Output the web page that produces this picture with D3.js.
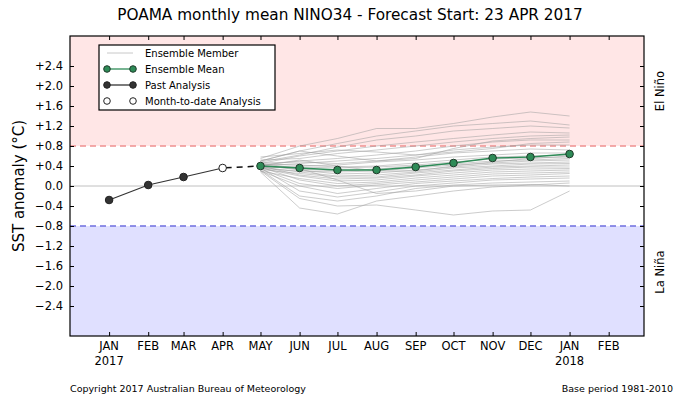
<!DOCTYPE html>
<html><head><meta charset="utf-8">
<script src="https://cdn.jsdelivr.net/npm/d3@7"></script>
<style>body{margin:0;background:#fff;} text{font-family:"DejaVu Sans",sans-serif;}</style>
</head><body><svg id="c" width="700" height="400"></svg>
<script>
const monthLabels = ["JAN","FEB","MAR","APR","MAY","JUN","JUL","AUG","SEP","OCT","NOV","DEC","JAN","FEB"];
const yearLabels = ["2017","","","","","","","","","","","","2018",""];
const yTicks = [-2.4,-2.0,-1.6,-1.2,-0.8,-0.4,0.0,0.4,0.8,1.2,1.6,2.0,2.4];
const pastMonths = ["2017-01","2017-02","2017-03"];
const pastValues = [-0.28, 0.02, 0.18];
const mtdMonths = ["2017-04"];
const mtdValues = [0.36];
const fcMonths = ["2017-05","2017-06","2017-07","2017-08","2017-09","2017-10","2017-11","2017-12","2018-01"];
const meanValues = [0.40,0.36,0.32,0.32,0.38,0.46,0.56,0.58,0.64];
const members = [
 [0.55,0.80,0.95,1.15,1.15,1.25,1.38,1.48,1.40],
 [0.50,0.70,0.85,1.00,1.10,1.20,1.25,1.30,1.22],
 [0.48,0.62,0.78,0.92,1.00,1.10,1.15,1.20,1.16],
 [0.45,0.60,0.70,0.80,0.88,0.95,1.02,1.08,1.06],
 [0.52,0.55,0.65,0.72,0.80,0.88,0.95,1.00,1.02],
 [0.42,0.50,0.55,0.62,0.70,0.80,0.88,0.92,0.92],
 [0.40,0.45,0.50,0.55,0.62,0.72,0.78,0.82,0.82],
 [0.46,0.48,0.45,0.50,0.58,0.66,0.70,0.74,0.72],
 [0.38,0.40,0.42,0.48,0.52,0.58,0.62,0.66,0.66],
 [0.44,0.42,0.38,0.40,0.46,0.52,0.58,0.60,0.62],
 [0.36,0.38,0.36,0.38,0.42,0.48,0.54,0.56,0.58],
 [0.40,0.34,0.30,0.34,0.40,0.44,0.50,0.52,0.55],
 [0.35,0.30,0.28,0.30,0.36,0.42,0.46,0.50,0.52],
 [0.42,0.32,0.24,0.26,0.32,0.38,0.44,0.46,0.48],
 [0.38,0.28,0.20,0.22,0.28,0.36,0.40,0.44,0.45],
 [0.33,0.25,0.18,0.18,0.26,0.32,0.38,0.40,0.42],
 [0.40,0.22,0.14,0.16,0.22,0.30,0.35,0.38,0.38],
 [0.36,0.20,0.10,0.12,0.20,0.26,0.32,0.34,0.35],
 [0.30,0.15,0.05,0.08,0.16,0.22,0.28,0.30,0.32],
 [0.38,0.12,0.00,0.05,0.12,0.18,0.24,0.26,0.28],
 [0.34,0.05,-0.05,0.02,0.08,0.14,0.20,0.22,0.25],
 [0.30,0.00,-0.15,-0.05,0.05,0.10,0.15,0.18,0.20],
 [0.36,-0.10,-0.22,-0.12,0.00,0.06,0.12,0.14,0.16],
 [0.32,-0.20,-0.30,-0.20,-0.05,0.02,0.06,0.08,0.10],
 [0.28,-0.44,-0.56,-0.30,-0.20,-0.10,-0.02,0.02,0.06],
 [0.30,-0.25,-0.40,-0.38,-0.48,-0.58,-0.50,-0.48,-0.10],
 [0.45,0.35,0.12,-0.15,-0.10,0.00,0.02,0.03,0.00],
 [0.50,0.70,0.60,0.50,0.55,0.75,0.90,0.95,0.98],
 [0.58,0.65,0.72,0.68,0.62,0.68,0.75,0.85,0.88],
 [0.40,0.52,0.40,0.30,0.30,0.40,0.48,0.55,0.60]
];
const tickMonths = ["2017-01","2017-02","2017-03","2017-04","2017-05","2017-06","2017-07","2017-08","2017-09","2017-10","2017-11","2017-12","2018-01","2018-02"];

const parse = d3.timeParse("%Y-%m");
const L=70, R=644, T=36, B=336;
const svg = d3.select("#c");
const x = d3.scaleTime().domain([new Date(2016,11,1), new Date(2018,2,1)]).range([L,R]);
const y = d3.scaleLinear().domain([-3,3]).range([B,T]);

// bands
svg.append("rect").attr("x",L).attr("y",y(3)).attr("width",R-L).attr("height",y(0.8)-y(3)).attr("fill","#ffe6e6");
svg.append("rect").attr("x",L).attr("y",y(-0.8)).attr("width",R-L).attr("height",y(-3)-y(-0.8)).attr("fill","#e0e0ff");
svg.append("line").attr("x1",L).attr("x2",R).attr("y1",y(0.8)).attr("y2",y(0.8)).attr("stroke","#f09090").attr("stroke-width",1.3).attr("stroke-dasharray","6,4");
svg.append("line").attr("x1",L).attr("x2",R).attr("y1",y(-0.8)).attr("y2",y(-0.8)).attr("stroke","#6f6fdf").attr("stroke-width",1.3).attr("stroke-dasharray","6,4");
svg.append("line").attr("x1",L).attr("x2",R).attr("y1",y(0)).attr("y2",y(0)).attr("stroke","#c0c0c0").attr("stroke-width",1);

const fcDates = fcMonths.map(parse);
const line = d3.line().x(d=>x(d[0])).y(d=>y(d[1]));
// members
svg.append("g").selectAll("path").data(members).join("path")
 .attr("d",m=>line(m.map((v,i)=>[fcDates[i],v])))
 .attr("fill","none").attr("stroke","#a0a0a0").attr("stroke-width",0.6).attr("stroke-opacity",0.9);

// past
const pastPts = pastMonths.map((m,i)=>[parse(m),pastValues[i]]);
const mtdPts = mtdMonths.map((m,i)=>[parse(m),mtdValues[i]]);
svg.append("path").attr("d",line(pastPts.concat(mtdPts))).attr("fill","none").attr("stroke","#333").attr("stroke-width",1.2);
svg.append("path").attr("d",line([mtdPts[0],[fcDates[0],meanValues[0]]])).attr("fill","none").attr("stroke","#111").attr("stroke-width",1.5).attr("stroke-dasharray","6,5").attr("stroke-dashoffset",-3);
svg.append("g").selectAll("circle").data(pastPts).join("circle")
 .attr("cx",d=>x(d[0])).attr("cy",d=>y(d[1])).attr("r",3.8).attr("fill","#333").attr("stroke","#222");
svg.append("g").selectAll("circle").data(mtdPts).join("circle")
 .attr("cx",d=>x(d[0])).attr("cy",d=>y(d[1])).attr("r",3.8).attr("fill","#fff").attr("stroke","#222");

// mean
const meanPts = fcDates.map((d,i)=>[d,meanValues[i]]);
svg.append("path").attr("d",line(meanPts)).attr("fill","none").attr("stroke","#2e8b57").attr("stroke-width",1.3);
svg.append("g").selectAll("circle").data(meanPts).join("circle")
 .attr("cx",d=>x(d[0])).attr("cy",d=>y(d[1])).attr("r",3.8).attr("fill","#2e8b57").attr("stroke","#1f3a2a").attr("stroke-width",1);

// frame
svg.append("rect").attr("x",L).attr("y",T).attr("width",R-L).attr("height",B-T).attr("fill","none").attr("stroke","#000").attr("stroke-width",1.2);

// axes
const td = tickMonths.map(parse);
const xb = svg.append("g").attr("transform",`translate(0,${B})`).call(d3.axisBottom(x).tickValues(td).tickSizeInner(-4).tickSizeOuter(0).tickFormat(""));
const xt = svg.append("g").attr("transform",`translate(0,${T})`).call(d3.axisTop(x).tickValues(td).tickSizeInner(-4).tickSizeOuter(0).tickFormat(""));
const fmt = v => v===0 ? "0.0" : (v>0?"+":"\u2212")+Math.abs(v).toFixed(1);
const yl = svg.append("g").attr("transform",`translate(${L},0)`).call(d3.axisLeft(y).tickValues(yTicks).tickSizeInner(-4).tickSizeOuter(0).tickPadding(7).tickFormat(fmt));
const yr = svg.append("g").attr("transform",`translate(${R},0)`).call(d3.axisRight(y).tickValues(yTicks).tickSizeInner(-4).tickSizeOuter(0).tickFormat(""));
[xb,xt,yl,yr].forEach(g=>{g.select(".domain").remove(); g.selectAll(".tick line").attr("stroke","#000");});
yl.selectAll("text").attr("font-size",11.5).attr("font-family","DejaVu Sans").attr("fill","#000");

// x labels
const xl = svg.append("g");
xl.selectAll("text.m").data(td).join("text").attr("class","m")
 .attr("x",d=>x(d)).attr("y",350).attr("text-anchor","middle").attr("font-size",11.5)
 .text((d,i)=>monthLabels[i]);
xl.selectAll("text.yr").data(td).join("text").attr("class","yr")
 .attr("x",d=>x(d)).attr("y",365).attr("text-anchor","middle").attr("font-size",11.5)
 .text((d,i)=>yearLabels[i]);

// titles
svg.append("text").attr("x",350).attr("y",20).attr("text-anchor","middle").attr("font-size",15.3).text("POAMA monthly mean NINO34 - Forecast Start: 23 APR 2017");
svg.append("text").attr("transform",`translate(24,${(T+B)/2}) rotate(-90)`).attr("text-anchor","middle").attr("font-size",15).text("SST anomaly (°C)");
svg.append("text").attr("transform",`translate(664,91) rotate(-90)`).attr("text-anchor","middle").attr("font-size",11.5).text("El Niño");
svg.append("text").attr("transform",`translate(664,272) rotate(-90)`).attr("text-anchor","middle").attr("font-size",11.5).text("La Niña");
svg.append("text").attr("x",70).attr("y",392).attr("font-size",9.5).text("Copyright 2017 Australian Bureau of Meteorology");
svg.append("text").attr("x",673).attr("y",392).attr("text-anchor","end").attr("font-size",9.5).text("Base period 1981-2010");

// legend
const lg = svg.append("g");
lg.append("rect").attr("x",99).attr("y",45).attr("width",176).attr("height",65).attr("fill","#fff").attr("stroke","#000").attr("stroke-width",1.2);
const items = [
 {label:"Ensemble Member", line:"#c8c8c8", lw:1, marker:null},
 {label:"Ensemble Mean", line:"#2e8b57", lw:1.3, marker:"#2e8b57", edge:"#1f3a2a"},
 {label:"Past Analysis", line:"#333", lw:1.3, marker:"#333", edge:"#222"},
 {label:"Month-to-date Analysis", line:null, marker:"#fff", edge:"#222"}
];
items.forEach((it,i)=>{
 const yy = 53 + i*16;
 if(it.line) lg.append("line").attr("x1",107).attr("x2",133).attr("y1",yy).attr("y2",yy).attr("stroke",it.line).attr("stroke-width",it.lw);
 if(it.marker){[107,133].forEach(cx=>lg.append("circle").attr("cx",cx).attr("cy",yy).attr("r",3.3).attr("fill",it.marker).attr("stroke",it.edge));}
 lg.append("text").attr("x",145).attr("y",yy+3.5).attr("font-size",10).text(it.label);
});
</script></body></html>
